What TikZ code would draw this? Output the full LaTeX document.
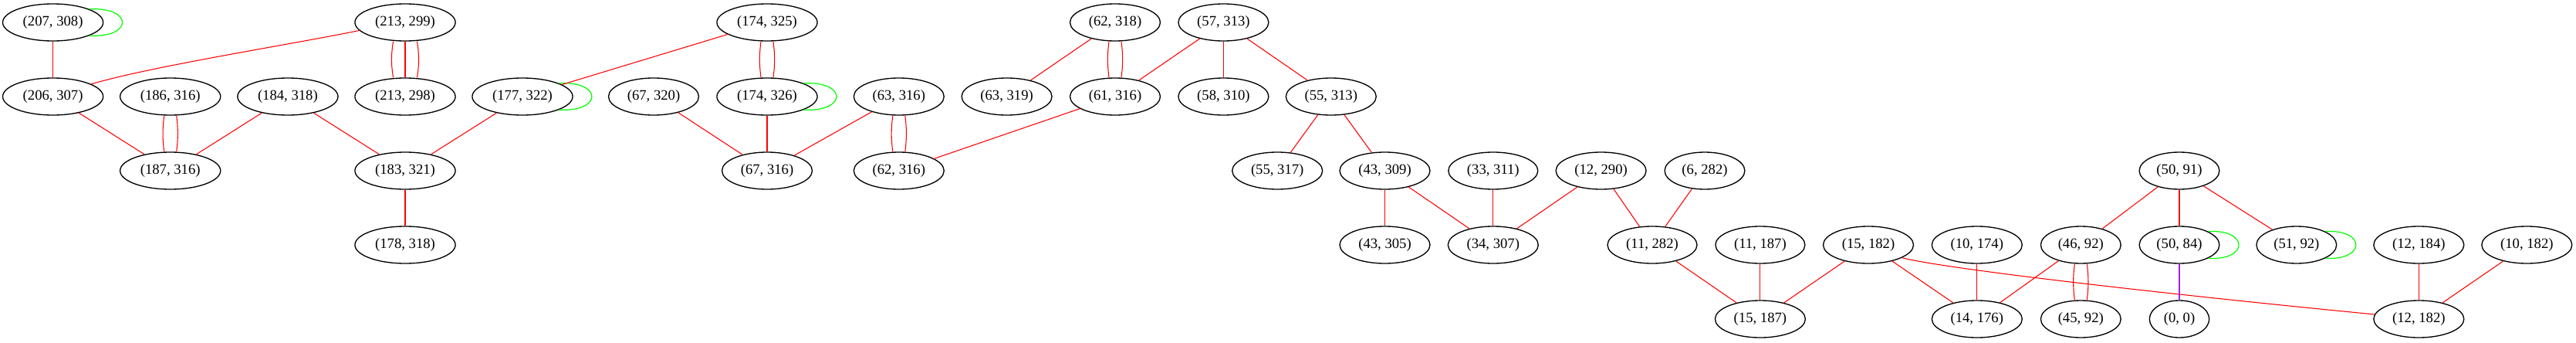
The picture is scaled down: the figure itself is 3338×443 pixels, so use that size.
\documentclass[tikz,border=0pt]{standalone}
\usepackage{fontspec}
\setmainfont{Liberation Serif}
\usetikzlibrary{shapes.geometric}
\definecolor{gvred}{RGB}{255,0,0}
\definecolor{gvgreen}{RGB}{0,255,0}
\definecolor{gvpurple}{RGB}{160,32,240}
\newcommand\dbledge[2]{%
  \draw[edge] ([xshift=-6pt]#1.south) to[bend right=7] ([xshift=-6pt]#2.north);
  \draw[edge] ([xshift=6pt]#1.south) to[bend left=7] ([xshift=6pt]#2.north);}
\newcommand\trpledge[2]{%
  \draw[edge] ([xshift=-11.6pt]#1.south) to[bend right=9] ([xshift=-11.6pt]#2.north);
  \draw[edge] (#1) -- (#2);
  \draw[edge] ([xshift=11.6pt]#1.south) to[bend left=9] ([xshift=11.6pt]#2.north);}
\newcommand\selfloop[3]{%
  \draw[loopedge] (#1.#2) .. controls +(#3,3) and +(#3,-3) .. (#1.-#2);}
\begin{document}
\begin{tikzpicture}[x=0.75pt,y=0.75pt,
  gnode/.style={ellipse, draw=black, line width=1pt, inner xsep=5.35pt, inner ysep=2pt,
    minimum height=36pt, font=\fontsize{14}{16}\selectfont},
  edge/.style={draw=gvred, line width=0.8pt},
  loopedge/.style={draw=gvgreen, line width=0.9pt},
  pedge/.style={draw=gvpurple, line width=0.8pt}]
\useasboundingbox (0,0) rectangle (3338,-443);
% row 1
\node[gnode] (n207x308) at (68.6,-29) {(207, 308)};
\node[gnode] (n213x299) at (525,-29) {(213, 299)};
\node[gnode] (n174x325) at (994,-29) {(174, 325)};
\node[gnode] (n62x318) at (1445,-29) {(62, 318)};
\node[gnode] (n57x313) at (1585.4,-29) {(57, 313)};
% row 2
\node[gnode] (n206x307) at (68.6,-125) {(206, 307)};
\node[gnode] (n186x316) at (220.7,-125) {(186, 316)};
\node[gnode] (n184x318) at (372.9,-125) {(184, 318)};
\node[gnode] (n213x298) at (525,-125) {(213, 298)};
\node[gnode] (n177x322) at (677,-125) {(177, 322)};
\node[gnode] (n67x320) at (847,-125) {(67, 320)};
\node[gnode] (n174x326) at (994,-125) {(174, 326)};
\node[gnode] (n63x316) at (1164.8,-125) {(63, 316)};
\node[gnode] (n63x319) at (1304.6,-125) {(63, 319)};
\node[gnode] (n61x316) at (1445,-125) {(61, 316)};
\node[gnode] (n58x310) at (1585.4,-125) {(58, 310)};
\node[gnode] (n55x313) at (1724.8,-125) {(55, 313)};
% row 3
\node[gnode] (n187x316) at (220.7,-221) {(187, 316)};
\node[gnode] (n183x321) at (525,-221) {(183, 321)};
\node[gnode] (n67x316) at (994,-221) {(67, 316)};
\node[gnode] (n62x316) at (1164.8,-221) {(62, 316)};
\node[gnode] (n55x317) at (1655.2,-221) {(55, 317)};
\node[gnode] (n43x309) at (1794.5,-221) {(43, 309)};
\node[gnode] (n33x311) at (1934.8,-221) {(33, 311)};
\node[gnode] (n12x290) at (2074.6,-221) {(12, 290)};
\node[gnode] (n6x282) at (2209,-221) {(6, 282)};
\node[gnode] (n50x91) at (2824,-221) {(50, 91)};
% row 4
\node[gnode] (n178x318) at (525,-317) {(178, 318)};
\node[gnode] (n43x305) at (1794.5,-317) {(43, 305)};
\node[gnode] (n34x307) at (1934.8,-317) {(34, 307)};
\node[gnode] (n11x282) at (2141,-317) {(11, 282)};
\node[gnode] (n11x187) at (2280.9,-317) {(11, 187)};
\node[gnode] (n15x182) at (2421,-317) {(15, 182)};
\node[gnode] (n10x174) at (2561.8,-317) {(10, 174)};
\node[gnode] (n46x92) at (2696.3,-317) {(46, 92)};
\node[gnode] (n50x84) at (2824,-317) {(50, 84)};
\node[gnode] (n51x92) at (2975.8,-317) {(51, 92)};
\node[gnode] (n12x184) at (3134.3,-317) {(12, 184)};
\node[gnode] (n10x182) at (3274.3,-317) {(10, 182)};
% row 5
\node[gnode] (n15x187) at (2280.9,-413) {(15, 187)};
\node[gnode] (n14x176) at (2561.8,-413) {(14, 176)};
\node[gnode] (n45x92) at (2696.3,-413) {(45, 92)};
\node[gnode] (n0x0) at (2824,-413) {(0, 0)};
\node[gnode] (n12x182) at (3134.3,-413) {(12, 182)};
% self loops
\selfloop{n207x308}{20}{57}
\selfloop{n177x322}{20}{57}
\selfloop{n174x326}{20}{57}
\selfloop{n50x84}{25}{53}
\selfloop{n51x92}{25}{53}
% edges
\draw[edge] (n207x308) -- (n206x307);
\draw[edge] (n213x299.190) .. controls (375,-58) and (195,-86) .. (n206x307.18);
\trpledge{n213x299}{n213x298}
\draw[edge] (n206x307) -- (n187x316);
\dbledge{n186x316}{n187x316}
\draw[edge] (n184x318) -- (n187x316);
\draw[edge] (n184x318) -- (n183x321);
\draw[edge] (n177x322) -- (n183x321);
\draw[edge] (n183x321) -- (n178x318);
\draw[edge] (n174x325) -- (n177x322);
\dbledge{n174x325}{n174x326}
\draw[edge] (n67x320) -- (n67x316);
\draw[edge] (n174x326) -- (n67x316);
\draw[edge] (n63x316) -- (n67x316);
\dbledge{n63x316}{n62x316}
\draw[edge] (n62x318) -- (n63x319);
\dbledge{n62x318}{n61x316}
\draw[edge] (n57x313) -- (n61x316);
\draw[edge] (n57x313) -- (n58x310);
\draw[edge] (n57x313) -- (n55x313);
\draw[edge] (n61x316) -- (n62x316);
\draw[edge] (n55x313) -- (n55x317);
\draw[edge] (n55x313) -- (n43x309);
\draw[edge] (n43x309) -- (n43x305);
\draw[edge] (n43x309) -- (n34x307);
\draw[edge] (n33x311) -- (n34x307);
\draw[edge] (n12x290) -- (n34x307);
\draw[edge] (n12x290) -- (n11x282);
\draw[edge] (n6x282) -- (n11x282);
\draw[edge] (n11x282) -- (n15x187);
\draw[edge] (n11x187) -- (n15x187);
\draw[edge] (n15x182) -- (n15x187);
\draw[edge] (n15x182) -- (n14x176);
\draw[edge] (n15x182.-21) .. controls (2530,-350) and (2850,-385) .. (n12x182.174);
\draw[edge] (n10x174) -- (n14x176);
\draw[edge] (n46x92) -- (n14x176);
\dbledge{n46x92}{n45x92}
\draw[edge] (n50x91) -- (n46x92);
\draw[edge] (n50x91) -- (n50x84);
\draw[edge] (n50x91) -- (n51x92);
\draw[pedge] (n50x84) -- (n0x0);
\draw[edge] (n12x184) -- (n12x182);
\draw[edge] (n10x182) -- (n12x182);
\end{tikzpicture}
\end{document}
